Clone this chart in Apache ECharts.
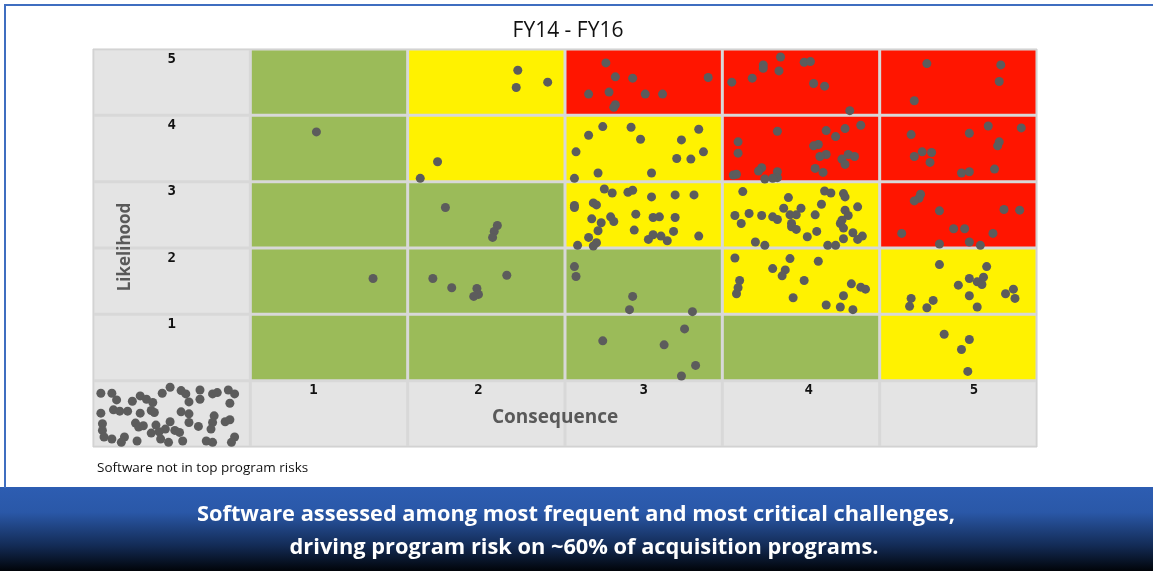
<!DOCTYPE html>
<html><head><meta charset="utf-8">
<script src="https://cdn.jsdelivr.net/npm/echarts@6/dist/echarts.min.js"></script>
<style>html,body{margin:0;padding:0;background:#fff;}#c{width:1153px;height:571px;}</style>
</head><body><div id="c"></div>
<script>
const chartTitle = 'FY14 - FY16';
const xAxisName = 'Consequence';
const yAxisName = 'Likelihood';
const footnote = 'Software not in top program risks';
const bannerLines = ['Software assessed among most frequent and most critical challenges,', 'driving program risk on ~60% of acquisition programs.'];
const consequenceLabels = ['1', '2', '3', '4', '5'];
const likelihoodLabels = ['1', '2', '3', '4', '5'];
// risk level per cell: rows = likelihood 1..5, columns = consequence 1..5
const riskLevels = [
  ['G', 'G', 'G', 'G', 'Y'],
  ['G', 'G', 'G', 'Y', 'Y'],
  ['G', 'G', 'Y', 'Y', 'R'],
  ['G', 'Y', 'Y', 'R', 'R'],
  ['G', 'Y', 'R', 'R', 'R']
];
// programs with software in top risks: [consequence position, likelihood position]
const programRisks = [
  // L5
  [2.70,5.68],[2.69,5.42],[2.89,5.50],
  [3.26,5.79],[3.32,5.58],[3.43,5.56],[3.91,5.57],[3.15,5.32],[3.28,5.35],[3.51,5.32],[3.62,5.32],[3.32,5.16],[3.31,5.12],
  [4.37,5.88],[4.26,5.76],[4.26,5.71],[4.52,5.80],[4.56,5.81],[4.36,5.67],[4.19,5.56],[4.06,5.50],[4.58,5.48],[4.65,5.44],[4.81,5.07],
  [5.30,5.78],[5.77,5.76],[5.76,5.51],[5.22,5.22],
  // L4
  [1.42,4.75],[2.19,4.30],[2.08,4.05],
  [3.24,4.83],[3.42,4.82],[3.15,4.70],[3.48,4.64],[3.85,4.79],[3.74,4.63],[3.07,4.45],[3.88,4.45],[3.71,4.35],[3.80,4.34],[3.21,4.13],[3.55,4.13],[3.06,4.05],
  [4.35,4.76],[4.10,4.60],[4.10,4.43],[4.66,4.77],[4.78,4.80],[4.88,4.85],[4.72,4.68],[4.61,4.56],[4.58,4.54],[4.66,4.41],[4.62,4.38],[4.80,4.41],[4.84,4.38],[4.76,4.34],[4.78,4.26],[4.25,4.21],[4.23,4.16],[4.35,4.15],[4.35,4.06],[4.32,4.05],[4.27,4.04],[4.07,4.10],[4.09,4.11],[4.59,4.20],[4.64,4.14],
  [5.20,4.71],[5.57,4.73],[5.69,4.84],[5.90,4.81],[5.76,4.60],[5.75,4.54],[5.22,4.38],[5.27,4.45],[5.33,4.44],[5.32,4.29],[5.52,4.13],[5.57,4.15],[5.73,4.19],
  // L3
  [2.24,3.61],[2.57,3.34],[2.55,3.25],[2.54,3.16],
  [3.25,3.89],[3.30,3.83],[3.40,3.84],[3.43,3.87],[3.55,3.77],[3.70,3.80],[3.82,3.80],[3.06,3.64],[3.06,3.61],[3.18,3.68],[3.20,3.65],[3.17,3.44],[3.23,3.38],[3.29,3.47],[3.31,3.40],[3.45,3.51],[3.56,3.46],[3.60,3.47],[3.70,3.46],[3.21,3.26],[3.44,3.27],[3.69,3.25],[3.85,3.18],[3.15,3.16],[3.08,3.04],[3.20,3.08],[3.18,3.03],[3.53,3.13],[3.56,3.20],[3.61,3.18],[3.65,3.11],
  [4.13,3.85],[4.42,3.76],[4.65,3.86],[4.69,3.83],[4.77,3.82],[4.78,3.77],[4.63,3.66],[4.86,3.62],[4.39,3.60],[4.50,3.60],[4.78,3.57],[4.08,3.49],[4.17,3.52],[4.25,3.49],[4.32,3.47],[4.35,3.43],[4.43,3.50],[4.47,3.50],[4.59,3.50],[4.80,3.49],[4.76,3.42],[4.75,3.37],[4.12,3.37],[4.44,3.37],[4.44,3.32],[4.47,3.28],[4.77,3.30],[4.60,3.25],[4.54,3.17],[4.83,3.23],[4.89,3.18],[4.86,3.13],[4.77,3.14],[4.21,3.09],[4.27,3.04],[4.67,3.04],[4.72,3.04],
  [5.26,3.81],[5.25,3.75],[5.22,3.71],[5.38,3.56],[5.79,3.58],[5.89,3.57],[5.14,3.22],[5.47,3.29],[5.54,3.29],[5.72,3.22],[5.38,3.06],[5.57,3.09],[5.64,3.04],
  // L2
  [1.78,2.54],
  [2.16,2.54],[2.28,2.40],[2.44,2.39],[2.45,2.30],[2.42,2.27],[2.63,2.59],
  [3.06,2.72],[3.07,2.57],[3.43,2.27],[3.41,2.07],[3.81,2.04],
  [4.08,2.85],[4.43,2.84],[4.61,2.80],[4.32,2.69],[4.40,2.67],[4.38,2.58],[4.11,2.51],[4.10,2.40],[4.09,2.31],[4.52,2.51],[4.82,2.46],[4.88,2.41],[4.91,2.38],[4.77,2.28],[4.45,2.25],[4.66,2.14],[4.75,2.11],[4.83,2.07],
  [5.38,2.75],[5.68,2.72],[5.57,2.54],[5.66,2.56],[5.62,2.49],[5.65,2.45],[5.50,2.44],[5.57,2.28],[5.20,2.24],[5.19,2.12],[5.34,2.21],[5.30,2.10],[5.62,2.11],[5.80,2.31],[5.85,2.38],[5.86,2.24],
  // L1
  [3.24,1.60],[3.63,1.54],[3.76,1.78],[3.83,1.23],[3.74,1.07],
  [5.41,1.70],[5.57,1.62],[5.52,1.47],[5.56,1.14]
];
// programs where software is not in top program risks
const notInTopRisks = [
  [0.05,0.81],[0.12,0.81],[0.15,0.71],[0.25,0.69],[0.30,0.77],[0.34,0.72],[0.38,0.67],[0.37,0.55],[0.44,0.81],[0.49,0.90],
  [0.56,0.85],[0.61,0.68],[0.59,0.80],[0.68,0.86],[0.68,0.72],[0.76,0.80],[0.79,0.82],[0.86,0.86],[0.90,0.80],[0.87,0.66],
  [0.05,0.51],[0.13,0.56],[0.17,0.54],[0.22,0.54],[0.30,0.51],[0.39,0.52],[0.56,0.53],[0.61,0.50],[0.77,0.47],
  [0.06,0.35],[0.06,0.25],[0.27,0.36],[0.29,0.30],[0.32,0.32],[0.40,0.33],[0.46,0.27],[0.49,0.38],[0.52,0.25],[0.61,0.37],
  [0.67,0.31],[0.76,0.37],[0.75,0.27],[0.84,0.38],[0.87,0.41],[0.55,0.22],[0.37,0.21],[0.42,0.23],
  [0.07,0.15],[0.12,0.12],[0.20,0.15],[0.18,0.07],[0.28,0.09],[0.43,0.12],[0.48,0.07],[0.57,0.09],[0.72,0.09],[0.76,0.07],[0.90,0.15],[0.88,0.07]
];

const riskColors = { G: '#9bbb59', Y: '#fff200', R: '#ff1500' };
const labelCellColor = '#e4e4e4';

const cellIndex = [];
for (let r = 0; r <= likelihoodLabels.length; r++)
  for (let c = 0; c <= consequenceLabels.length; c++) cellIndex.push([c, r]);

const chart = echarts.init(document.getElementById('c'));
chart.setOption({
  animation: false,
  backgroundColor: '#ffffff',
  grid: { left: 93, right: 116, top: 49, bottom: 124, show: true, backgroundColor: '#d8d8d8', borderColor: '#cdcdcd', borderWidth: 1 },
  xAxis: { type: 'value', min: 0, max: 6, show: false },
  yAxis: { type: 'value', min: 0, max: 6, show: false },
  graphic: [
    { type: 'rect', z: 100, shape: { x: 4, y: 4, width: 1149, height: 2 }, style: { fill: '#3f6ec0' } },
    { type: 'rect', z: 100, shape: { x: 4, y: 4, width: 2, height: 484 }, style: { fill: '#3f6ec0' } },
    { type: 'text', z: 100, x: 568, y: 31,
      style: { text: chartTitle, textAlign: 'center', textVerticalAlign: 'middle', font: '21px "Open Sans"', fill: '#111' } },
    { type: 'text', z: 100, x: 125, y: 247, rotation: Math.PI / 2,
      style: { text: yAxisName, textAlign: 'center', textVerticalAlign: 'middle', font: 'bold 17px "Open Sans"', fill: '#595959' } },
    { type: 'text', z: 100, x: 555, y: 418,
      style: { text: xAxisName, textAlign: 'center', textVerticalAlign: 'middle', font: 'bold 19px "Open Sans"', fill: '#595959' } },
    { type: 'text', z: 100, x: 97, y: 468,
      style: { text: footnote, textVerticalAlign: 'middle', font: '13.5px "Open Sans"', fill: '#111' } },
    { type: 'rect', z: 90, shape: { x: 0, y: 487, width: 1153, height: 84 },
      style: { fill: new echarts.graphic.LinearGradient(0, 0, 0, 1, [
        { offset: 0, color: '#2d5db2' }, { offset: 0.3, color: '#2a58a8' },
        { offset: 0.7, color: '#132b55' }, { offset: 1, color: '#010409' }]) } },
    { type: 'text', z: 100, x: 576, y: 515,
      style: { text: bannerLines[0], textAlign: 'center', textVerticalAlign: 'middle', font: 'bold 21.8px "Open Sans"', fill: '#ffffff' } },
    { type: 'text', z: 100, x: 584, y: 548,
      style: { text: bannerLines[1], textAlign: 'center', textVerticalAlign: 'middle', font: 'bold 21.8px "Open Sans"', fill: '#ffffff' } }
  ],
  series: [
    {
      type: 'custom', z: 1, silent: true,
      data: cellIndex,
      renderItem: function (params, api) {
        const c = api.value(0), r = api.value(1);
        const p0 = api.coord([c, r + 1]);
        const p1 = api.coord([c + 1, r]);
        const x = p0[0] + 1.5, y = p0[1] + 1.5, w = p1[0] - p0[0] - 3, h = p1[1] - p0[1] - 3;
        let fill, label = null, lx = x + w / 2;
        if (r === 0 || c === 0) {
          fill = labelCellColor;
          if (c === 0 && r > 0) label = likelihoodLabels[r - 1];
          if (r === 0 && c > 0) { label = consequenceLabels[c - 1]; lx += (c - 3) * 7.8; }
        } else {
          fill = riskColors[riskLevels[r - 1][c - 1]];
        }
        const children = [{ type: 'rect', shape: { x: x, y: y, width: w, height: h }, style: { fill: fill } }];
        if (label) children.push({ type: 'text', style: { text: label, x: lx, y: y + 8.5, textAlign: 'center', textVerticalAlign: 'middle', font: 'bold 14px "DejaVu Sans Mono"', fill: '#111' } });
        return { type: 'group', children: children };
      }
    },
    {
      type: 'scatter', z: 3, symbolSize: 9,
      itemStyle: { color: '#5c5c5c', opacity: 1 },
      data: programRisks.concat(notInTopRisks)
    }
  ]
});
</script></body></html>
